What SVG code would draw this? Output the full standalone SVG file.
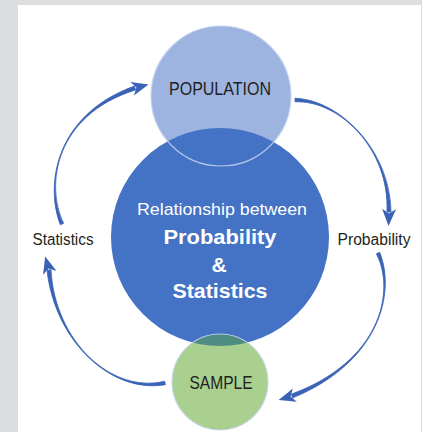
<svg xmlns="http://www.w3.org/2000/svg" xmlns:xlink="http://www.w3.org/1999/xlink" width="422" height="432" viewBox="0 0 422 432">
  <style>
    .lbl { font-family: "Liberation Sans", Arial, sans-serif; fill: #231f20; text-anchor: middle; }
    .inner { font-family: "Liberation Sans", Arial, sans-serif; fill: #ffffff; text-anchor: middle; }
    .bold { font-weight: bold; }
    .shaft { fill: #3a62b6; stroke: #3a62b6; stroke-width: 0.8; stroke-linejoin: round; }
    .head { fill: #3a62b6; }
    .rim { fill: none; stroke: #c3d3f0; stroke-width: 1.2; stroke-opacity: 0.85; }
  </style>
  <defs>
    <path id="arrowhead" d="M14,0 L-3,-7 L1.5,0 L-3,7 Z"/>
    <clipPath id="coreClip">
      <circle cx="220" cy="237" r="109"/>
    </clipPath>
  </defs>

  <!-- page frame -->
  <rect x="0" y="0" width="422" height="432" fill="#dcdddf"/>
  <rect x="18" y="5" width="403" height="427" fill="#ffffff"/>

  <!-- population -->
  <g id="population">
    <circle cx="221" cy="96" r="70" fill="#9db4e0"/>
  </g>

  <!-- central relationship circle -->
  <g id="relationship">
    <circle cx="220" cy="237" r="109" fill="#4472c4"/>
    <circle class="rim" cx="221" cy="96" r="70"/>
    <text class="inner" x="222" y="215" font-size="17" textLength="170" lengthAdjust="spacingAndGlyphs">Relationship between</text>
    <text class="inner bold" x="220" y="244" font-size="21" textLength="113" lengthAdjust="spacingAndGlyphs">Probability</text>
    <text class="inner bold" x="219" y="271.5" font-size="21">&amp;</text>
    <text class="inner bold" x="220" y="298" font-size="21" textLength="95" lengthAdjust="spacingAndGlyphs">Statistics</text>
  </g>

  <g id="population-label">
    <text class="lbl" x="220" y="95" font-size="19" textLength="102" lengthAdjust="spacingAndGlyphs">POPULATION</text>
  </g>

  <!-- sample -->
  <g id="sample">
    <circle cx="220" cy="382" r="48" fill="#a9d08e"/>
    <circle cx="220" cy="382" r="48" fill="#4f8c82" clip-path="url(#coreClip)"/>
    <circle class="rim" cx="220" cy="382" r="48" stroke-opacity="0.6"/>
    <text class="lbl" x="221" y="389" font-size="19" textLength="63" lengthAdjust="spacingAndGlyphs">SAMPLE</text>
  </g>

  <!-- side labels -->
  <g id="statistics">
    <text class="lbl" x="63" y="245" font-size="16" textLength="61" lengthAdjust="spacingAndGlyphs">Statistics</text>
  </g>
  <g id="probability">
    <text class="lbl" x="374" y="245" font-size="16" textLength="73" lengthAdjust="spacingAndGlyphs">Probability</text>
  </g>

  <!-- cycle connectors -->
  <g id="connectors">
    <!-- Statistics to Population -->
    <path class="shaft" d="M63.65,223.28 C45,185 55,115 135.64,89.89 L134.36,86.11 C55,115 45,185 60.35,224.72 Z"/>
    <use class="head" xlink:href="#arrowhead" transform="translate(135,88) rotate(-15)"/>
    <!-- Population to Probability -->
    <path class="shaft" d="M295,101.8 C340,100 390,150 387,212 L391,212 C390,150 340,100 295,98.2 Z"/>
    <use class="head" xlink:href="#arrowhead" transform="translate(389,212) rotate(92)"/>
    <!-- Probability to Sample -->
    <path class="shaft" d="M376.37,253.75 C396,292 380,362 291.28,394.13 L292.72,397.87 C380,362 396,292 379.63,252.25 Z"/>
    <use class="head" xlink:href="#arrowhead" transform="translate(292,396) rotate(163)"/>
    <!-- Sample to Statistics -->
    <path class="shaft" d="M164.63,381.24 C112,394 55,342 50.99,269.83 L47.01,270.17 C55,342 112,394 165.37,384.76 Z"/>
    <use class="head" xlink:href="#arrowhead" transform="translate(49,270) rotate(-106)"/>
  </g>
</svg>
